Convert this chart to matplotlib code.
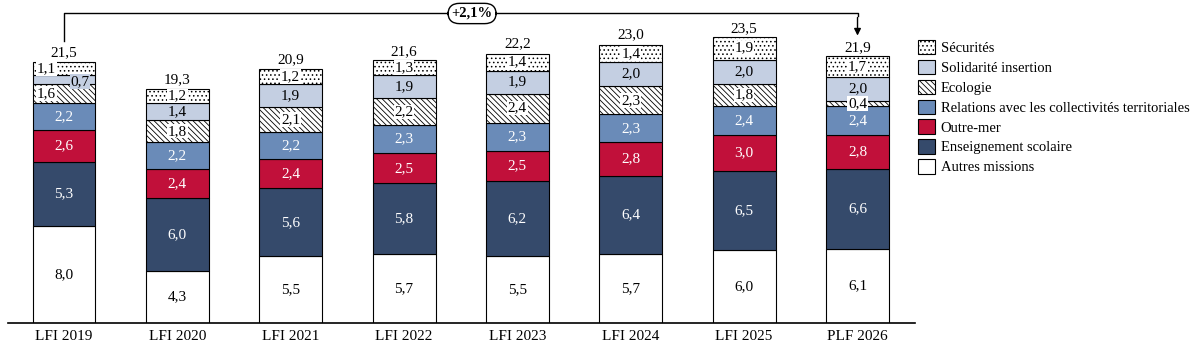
import matplotlib.pyplot as plt
import matplotlib.patches as mpatches
import numpy as np

plt.rcParams['font.family'] = ['Liberation Serif', 'DejaVu Serif']
plt.rcParams['hatch.linewidth'] = 0.6

years = ["LFI 2019", "LFI 2020", "LFI 2021", "LFI 2022", "LFI 2023", "LFI 2024", "LFI 2025", "PLF 2026"]
autres = [8.0, 4.3, 5.5, 5.7, 5.5, 5.7, 6.0, 6.1]
enseignement = [5.3, 6.0, 5.6, 5.8, 6.2, 6.4, 6.5, 6.6]
outre_mer = [2.6, 2.4, 2.4, 2.5, 2.5, 2.8, 3.0, 2.8]
relations = [2.2, 2.2, 2.2, 2.3, 2.3, 2.3, 2.4, 2.4]
ecologie = [1.6, 1.8, 2.1, 2.2, 2.4, 2.3, 1.8, 0.4]
solidarite = [0.7, 1.4, 1.9, 1.9, 1.9, 2.0, 2.0, 2.0]
securites = [1.1, 1.2, 1.2, 1.3, 1.4, 1.4, 1.9, 1.7]
totals = [21.5, 19.3, 20.9, 21.6, 22.2, 23.0, 23.5, 21.9]
evolution = "+2,1%"

series = [
    ("Autres missions", autres, "white", None, "black", None),
    ("Enseignement scolaire", enseignement, "#354a6b", None, "white", None),
    ("Outre-mer", outre_mer, "#c1103a", None, "white", None),
    ("Relations avec les collectivités territoriales", relations, "#6a8bb8", None, "white", None),
    ("Ecologie", ecologie, "white", "\\\\\\\\\\\\", "black", "white"),
    ("Solidarité insertion", solidarite, "#c4cfe2", None, "black", None),
    ("Sécurités", securites, "white", "....", "black", "white"),
]

fig = plt.figure(figsize=(12.02, 3.52), dpi=100)
ax = fig.add_axes([8 / 1202, 29 / 352, (915 - 8) / 1202, (323 - 5) / 352])

x = np.arange(len(years))
width = 0.555
bottom = np.zeros(len(years))
handles = []
for name, vals, color, hatch, tcolor, bbox_c in series:
    vals = np.array(vals)
    bars = ax.bar(x, vals, width, bottom=bottom, color=color, hatch=hatch,
                  edgecolor="black", linewidth=0.8)
    for i, b in enumerate(bars):
        v = vals[i]
        txt = f"{v:.1f}".replace(".", ",")
        cx = x[i]
        cy = bottom[i] + v / 2
        ha = "center"
        box = None
        if bbox_c is not None:
            box = dict(facecolor=bbox_c, edgecolor="none", pad=0.5)
        if years[i] == "LFI 2019" and name in ("Ecologie", "Sécurités"):
            cx = x[i] - width / 2 + 0.04
            ha = "left"
        if years[i] == "LFI 2019" and name == "Solidarité insertion":
            # small segment: label pushed to the right
            cx = x[i] + 0.14
            cy = bottom[i] + v / 2 - 0.15
            box = dict(facecolor=color, edgecolor="none", pad=0.5)
        t = ax.text(cx, cy, txt, ha=ha, va="center", fontsize=11, color=tcolor, bbox=box)
        t.set_zorder(5)
    bottom += vals
    handles.append(mpatches.Patch(facecolor=color, hatch=hatch, edgecolor="black",
                                  linewidth=0.8, label=name))

for i, t in enumerate(totals):
    ax.text(x[i], t + 0.25, f"{t:.1f}".replace(".", ","), ha="center", va="bottom", fontsize=11)

# bracket showing evolution 2019 -> 2026
y_top = 25.5
ax.plot([x[0], x[0], x[-1], x[-1]], [totals[0] + 1.75, y_top, y_top, y_top - 0.2],
        color="black", linewidth=1)
ax.annotate("", xy=(x[-1], totals[-1] + 1.55), xytext=(x[-1], y_top - 0.1),
            arrowprops=dict(arrowstyle="-|>", color="black", lw=1, mutation_scale=10))
ax.text((x[0] + x[-1]) / 2 + 0.1, y_top, evolution, ha="center", va="center", fontsize=10.5,
        fontweight="bold", bbox=dict(boxstyle="round,pad=0.25,rounding_size=0.8",
                                     facecolor="white", edgecolor="black", lw=1))

ax.set_xlim(x[0] - (64 - 8) / 113.4, x[-1] + (915 - 857.5) / 113.4)
ax.set_ylim(0, 26.2)
ax.set_xticks(x)
ax.set_xticklabels(years, fontsize=11)
ax.tick_params(axis="x", length=0, pad=5)
ax.set_yticks([])
for s in ["top", "right", "left"]:
    ax.spines[s].set_visible(False)
ax.spines["bottom"].set_linewidth(1.2)

fig.legend(handles=handles[::-1], loc="upper left", bbox_to_anchor=(918 / 1202, 1 - 40 / 352),
           frameon=False, fontsize=10.5, handlelength=1.15, handleheight=1.15,
           handletextpad=0.4, labelspacing=0.32, borderaxespad=0, borderpad=0)

fig.savefig("out.png", dpi=100)
